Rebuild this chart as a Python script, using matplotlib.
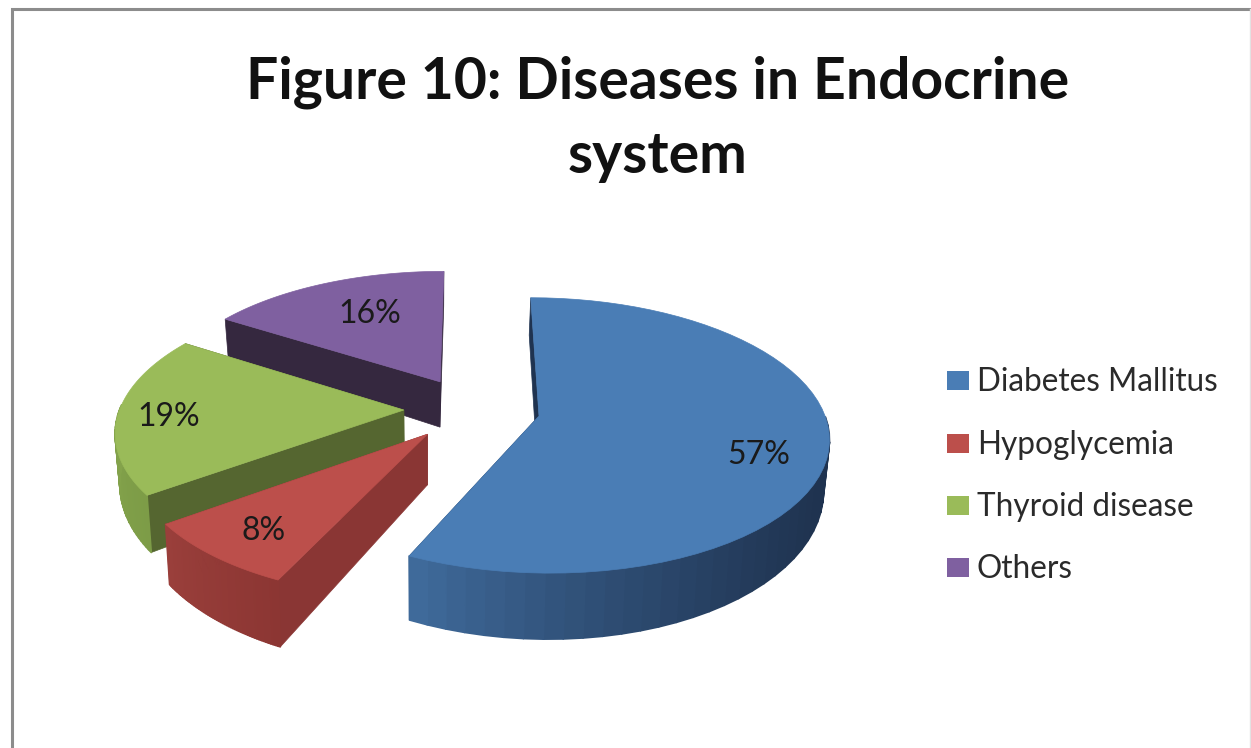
import matplotlib
matplotlib.use("Agg")
import matplotlib.pyplot as plt
from matplotlib.collections import PolyCollection
from matplotlib.colors import to_rgb
from matplotlib.patches import Polygon
from matplotlib.patches import Rectangle
import numpy as np

plt.rcParams['font.family'] = ['Lato', 'DejaVu Sans']

title = "Figure 10: Diseases in Endocrine\nsystem"
categories = ['Diabetes Mallitus', 'Hypoglycemia', 'Thyroid disease', 'Others']
shares = [57, 8, 19, 16]

top_colors = ['#4a7db5', '#bc4f4b', '#9abb59', '#7f60a0']
side_colors = ['#1f3350', '#8a3634', '#556630', '#35283f']
# rim shading, from the clockwise start of each slice to its end
rim_start = ['#1f3350', '#8c3633', '#7d9c47', '#35283f']
rim_end = ['#3f6a9a', '#9a3f3b', '#8bab50', '#35283f']
rim_flat = [0.55, 0.0, 0.0, 0.0]

# pie geometry on the page
cx, cy = 472, 409
radius_x, radius_y = 284, 133
depth = 48
explode = 0.24
persp = 0.14
squeeze = 0.015
squeeze_x = 430
label_r = [0.78, 0.80, 0.82, 0.65]
label_turn = [8, -1, -2, 3]


def project(px, py, z=0.0):
    s = 1.0 / (1.0 + persp * py)
    x = cx + radius_x * px * s
    y = cy - radius_y * py * s + z * depth * s ** 2
    x = squeeze_x + (x - squeeze_x) * (1 - squeeze * z)
    return x, y


def mix(c1, c2, t):
    a, b = np.array(to_rgb(c1)), np.array(to_rgb(c2))
    return tuple(a + (b - a) * t)


fig = plt.figure(figsize=(12.51, 7.48), dpi=100)
ax = fig.add_axes([0, 0, 1, 1])
ax.set_xlim(0, 1251)
ax.set_ylim(748, 0)
ax.axis('off')

# chart frame, the right side is only a faint line
ax.plot([12, 12, 1251], [769, 9, 9], color='#8c8c8c', lw=2.2, zorder=1, solid_joinstyle='miter')
ax.plot([1250, 1250], [9, 748], color='#e2e2e2', lw=1, zorder=1)

total = sum(shares)
edges = np.cumsum([0] + shares) / total * 360.0
slices = []
for i in range(len(shares)):
    slices.append((i, edges[i], edges[i + 1]))

# far slices first, the big one goes on top
for i, a0, a1 in sorted(slices, key=lambda v: -np.cos(np.radians((v[1] + v[2]) / 2))):
    mid = np.radians((a0 + a1) / 2)
    ox, oy = explode * np.sin(mid), explode * np.cos(mid)
    theta = np.radians(np.linspace(a0, a1, 60))
    rx = ox + np.sin(theta)
    ry = oy + np.cos(theta)

    # cut faces, back one first
    ends = [theta[0], theta[-1]]
    for t in sorted(ends, key=lambda v: -np.cos(v)):
        ex, ey = ox + np.sin(t), oy + np.cos(t)
        quad = [project(ox, oy), project(ex, ey), project(ex, ey, 1), project(ox, oy, 1)]
        ax.add_patch(Polygon(quad, closed=True, fc=side_colors[i], ec=side_colors[i], lw=0.5, zorder=2))

    # outer rim as thin shaded strips, only the part facing front
    strips = []
    colors = []
    for k in range(len(theta) - 1):
        if np.cos(theta[k]) > 0.02:
            continue
        strips.append([project(rx[k], ry[k]), project(rx[k + 1], ry[k + 1]),
                       project(rx[k + 1], ry[k + 1], 1), project(rx[k], ry[k], 1)])
        f = k / (len(theta) - 2)
        f = max(0.0, (f - rim_flat[i]) / (1 - rim_flat[i]))
        if rim_flat[i] > 0:
            f = f ** 1.6
        colors.append(mix(rim_start[i], rim_end[i], f))
    if strips:
        ax.add_collection(PolyCollection(strips, facecolors=colors, edgecolors=colors, linewidths=1.2, zorder=2))

    # top face
    top = [project(ox, oy)] + [project(a, b) for a, b in zip(rx, ry)]
    ax.add_patch(Polygon(top, closed=True, fc=top_colors[i], ec=top_colors[i], lw=0.5, zorder=2))

    # value label
    lt = mid + np.radians(label_turn[i])
    lx, ly = project(ox + label_r[i] * np.sin(lt), oy + label_r[i] * np.cos(lt))
    ax.text(lx, ly, f"{shares[i]}%", ha='center', va='center', fontsize=23, color='#1a1a1a', zorder=3)

ax.text(658, 119, title, ha='center', va='center', fontsize=41, fontweight='bold',
        color='#111111', linespacing=1.5, zorder=3)

# legend
legend_y = [380, 443, 505, 567]
for name, color, y in zip(categories, top_colors, legend_y):
    ax.add_patch(Rectangle((947, y - 9.5), 22, 19, fc=color, ec='none', zorder=3))
    ax.text(977, y + 2, name, ha='left', va='center', fontsize=22.7, color='#2a2a2a', zorder=3)

fig.savefig('out.png', dpi=100, facecolor='white')
